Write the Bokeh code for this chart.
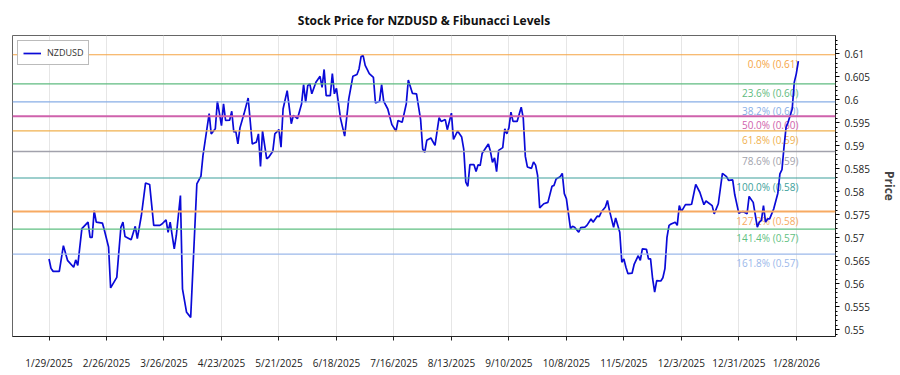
import pandas as pd
from bokeh.plotting import figure
from bokeh.models import (FixedTicker, SingleIntervalTicker, CustomJSTickFormatter,
                          Span, ColumnDataSource, Range1d)
from bokeh.core.properties import value
from bokeh.embed import file_html
from bokeh.resources import INLINE

# ---------------- data ----------------
dates = [
    "2025-01-29", "2025-01-30", "2025-01-31", "2025-02-03", "2025-02-05", "2025-02-07", "2025-02-10",
    "2025-02-11", "2025-02-12", "2025-02-14", "2025-02-17", "2025-02-18", "2025-02-19", "2025-02-20",
    "2025-02-21", "2025-02-24", "2025-02-25", "2025-02-27", "2025-02-28", "2025-03-03", "2025-03-05",
    "2025-03-06", "2025-03-07", "2025-03-10", "2025-03-12", "2025-03-13", "2025-03-15", "2025-03-17",
    "2025-03-19", "2025-03-21", "2025-03-24", "2025-03-25", "2025-03-27", "2025-03-28", "2025-03-29",
    "2025-03-31", "2025-04-01", "2025-04-03", "2025-04-04", "2025-04-06", "2025-04-08", "2025-04-11",
    "2025-04-13", "2025-04-14", "2025-04-17", "2025-04-18", "2025-04-20", "2025-04-21", "2025-04-23",
    "2025-04-24", "2025-04-25", "2025-04-27", "2025-04-28", "2025-04-29", "2025-04-30", "2025-05-01",
    "2025-05-02", "2025-05-04", "2025-05-06", "2025-05-08", "2025-05-10", "2025-05-11", "2025-05-12",
    "2025-05-13", "2025-05-15", "2025-05-16", "2025-05-18", "2025-05-19", "2025-05-21", "2025-05-22",
    "2025-05-23", "2025-05-25", "2025-05-27", "2025-05-28", "2025-05-30", "2025-06-01", "2025-06-02",
    "2025-06-03", "2025-06-04", "2025-06-05", "2025-06-06", "2025-06-08", "2025-06-10", "2025-06-11",
    "2025-06-12", "2025-06-13", "2025-06-15", "2025-06-16", "2025-06-17", "2025-06-18", "2025-06-20",
    "2025-06-22", "2025-06-24", "2025-06-26", "2025-06-28", "2025-06-29", "2025-06-30", "2025-07-01",
    "2025-07-02", "2025-07-04", "2025-07-06", "2025-07-07", "2025-07-09", "2025-07-10", "2025-07-11",
    "2025-07-13", "2025-07-15", "2025-07-17", "2025-07-18", "2025-07-20", "2025-07-22", "2025-07-23",
    "2025-07-25", "2025-07-27", "2025-07-29", "2025-07-30", "2025-07-31", "2025-08-01", "2025-08-03",
    "2025-08-05", "2025-08-07", "2025-08-08", "2025-08-10", "2025-08-11", "2025-08-13", "2025-08-14",
    "2025-08-16", "2025-08-18", "2025-08-19", "2025-08-20", "2025-08-21", "2025-08-22", "2025-08-24",
    "2025-08-25", "2025-08-26", "2025-08-27", "2025-08-28", "2025-08-31", "2025-09-01", "2025-09-02",
    "2025-09-03", "2025-09-04", "2025-09-05", "2025-09-07", "2025-09-08", "2025-09-09", "2025-09-10",
    "2025-09-11", "2025-09-12", "2025-09-14", "2025-09-16", "2025-09-17", "2025-09-18", "2025-09-19",
    "2025-09-21", "2025-09-22", "2025-09-23", "2025-09-24", "2025-09-25", "2025-09-27", "2025-09-29",
    "2025-10-01", "2025-10-02", "2025-10-03", "2025-10-05", "2025-10-06", "2025-10-07", "2025-10-08",
    "2025-10-10", "2025-10-11", "2025-10-12", "2025-10-14", "2025-10-15", "2025-10-17", "2025-10-18",
    "2025-10-20", "2025-10-21", "2025-10-23", "2025-10-24", "2025-10-25", "2025-10-27", "2025-10-28",
    "2025-10-29", "2025-10-31", "2025-11-01", "2025-11-03", "2025-11-04", "2025-11-05", "2025-11-06",
    "2025-11-07", "2025-11-09", "2025-11-10", "2025-11-12", "2025-11-13", "2025-11-14", "2025-11-16",
    "2025-11-17", "2025-11-18", "2025-11-19", "2025-11-20", "2025-11-21", "2025-11-23", "2025-11-24",
    "2025-11-25", "2025-11-26", "2025-11-27", "2025-11-28", "2025-11-30", "2025-12-01", "2025-12-02",
    "2025-12-03", "2025-12-05", "2025-12-07", "2025-12-08", "2025-12-10", "2025-12-12", "2025-12-14",
    "2025-12-15", "2025-12-18", "2025-12-19", "2025-12-21", "2025-12-23", "2025-12-25", "2025-12-26",
    "2025-12-28", "2025-12-29", "2025-12-31", "2026-01-01", "2026-01-02", "2026-01-04", "2026-01-05",
    "2026-01-07", "2026-01-09", "2026-01-10", "2026-01-11", "2026-01-12", "2026-01-13", "2026-01-14",
    "2026-01-15", "2026-01-17", "2026-01-19", "2026-01-20", "2026-01-21", "2026-01-22", "2026-01-23",
    "2026-01-24", "2026-01-25", "2026-01-26", "2026-01-27", "2026-01-28", "2026-01-29",
]
prices = [
    0.5654, 0.5633, 0.5627, 0.5627, 0.5683, 0.5651, 0.5636,
    0.5652, 0.5640, 0.5720, 0.5734, 0.5701, 0.5701, 0.5759,
    0.5734, 0.5732, 0.5716, 0.5680, 0.5591, 0.5614, 0.5723,
    0.5734, 0.5703, 0.5696, 0.5725, 0.5698, 0.5749, 0.5819,
    0.5816, 0.5727, 0.5727, 0.5730, 0.5739, 0.5712, 0.5734,
    0.5676, 0.5705, 0.5792, 0.5589, 0.5538, 0.5527, 0.5817,
    0.5834, 0.5879, 0.5970, 0.5926, 0.5937, 0.5997, 0.5944,
    0.5991, 0.5955, 0.5956, 0.5975, 0.5930, 0.5931, 0.5904,
    0.5939, 0.5970, 0.6004, 0.5904, 0.5908, 0.5926, 0.5855,
    0.5932, 0.5872, 0.5875, 0.5888, 0.5926, 0.5935, 0.5897,
    0.5980, 0.6020, 0.5948, 0.5966, 0.5959, 0.5991, 0.6033,
    0.5995, 0.6031, 0.6035, 0.6013, 0.6038, 0.6051, 0.6027,
    0.6066, 0.6009, 0.6009, 0.6057, 0.6013, 0.6025, 0.5959,
    0.5921, 0.6002, 0.6051, 0.6055, 0.6067, 0.6094, 0.6096,
    0.6075, 0.6057, 0.6049, 0.5993, 0.5997, 0.6033, 0.5997,
    0.5980, 0.5946, 0.5932, 0.5955, 0.5951, 0.5991, 0.6043,
    0.6014, 0.6013, 0.5957, 0.5893, 0.5886, 0.5912, 0.5917,
    0.5901, 0.5961, 0.5953, 0.5957, 0.5935, 0.5971, 0.5914,
    0.5932, 0.5919, 0.5893, 0.5821, 0.5812, 0.5859, 0.5859,
    0.5844, 0.5859, 0.5857, 0.5884, 0.5904, 0.5888, 0.5864,
    0.5874, 0.5844, 0.5890, 0.5896, 0.5937, 0.5926, 0.5939,
    0.5973, 0.5953, 0.5953, 0.5984, 0.5960, 0.5877, 0.5854,
    0.5851, 0.5865, 0.5858, 0.5835, 0.5765, 0.5774, 0.5777,
    0.5812, 0.5814, 0.5828, 0.5833, 0.5840, 0.5796, 0.5785,
    0.5720, 0.5725, 0.5723, 0.5712, 0.5722, 0.5723, 0.5727,
    0.5741, 0.5734, 0.5747, 0.5746, 0.5756, 0.5767, 0.5781,
    0.5759, 0.5723, 0.5743, 0.5712, 0.5647, 0.5654, 0.5636,
    0.5622, 0.5623, 0.5642, 0.5661, 0.5651, 0.5676, 0.5675,
    0.5654, 0.5654, 0.5611, 0.5582, 0.5607, 0.5606, 0.5613,
    0.5633, 0.5701, 0.5727, 0.5730, 0.5734, 0.5727, 0.5770,
    0.5757, 0.5772, 0.5772, 0.5773, 0.5816, 0.5799, 0.5772,
    0.5780, 0.5770, 0.5752, 0.5774, 0.5840, 0.5833, 0.5825,
    0.5826, 0.5794, 0.5753, 0.5756, 0.5757, 0.5752, 0.5790,
    0.5777, 0.5723, 0.5734, 0.5738, 0.5770, 0.5734, 0.5741,
    0.5741, 0.5763, 0.5797, 0.5839, 0.5848, 0.5897, 0.5940,
    0.5951, 0.5966, 0.5980, 0.6038, 0.6057, 0.6084,
]

fib_high = 0.6098
fib_low = 0.5830
fib_ratios = [0.0, 0.236, 0.382, 0.5, 0.618, 0.786, 1.0, 1.272, 1.414, 1.618]
fib_colors = ["#f5a445", "#5fbb80", "#88aee6", "#cf62ac", "#f0b14f",
              "#a2a2ac", "#3c9f9b", "#f7aa62", "#5fbf82", "#9bb8ea"]
fib_widths = [1.2, 1.2, 1.2, 2, 1.2, 1.5, 1.2, 2, 1.2, 1.2]

tick_dates = ["2025-01-29", "2025-02-26", "2025-03-26", "2025-04-23", "2025-05-21",
              "2025-06-18", "2025-07-16", "2025-08-13", "2025-09-10", "2025-10-08",
              "2025-11-05", "2025-12-03", "2025-12-31", "2026-01-28"]

# ---------------- figure ----------------
x = pd.to_datetime(dates)
FONT = "Open Sans"

p = figure(width=900, height=375, x_axis_type="datetime", y_axis_location="right",
           output_backend="svg", toolbar_location=None,
           x_range=Range1d(pd.Timestamp("2025-01-11 05:00"), pd.Timestamp("2026-02-16 02:00")),
           y_range=Range1d(0.54854, 0.61398),
           min_border_left=12, min_border_right=48, min_border_top=35, min_border_bottom=39)

p.title.text = "Stock Price for NZDUSD & Fibunacci Levels"
p.title.align = "center"
p.title.vertical_align = "top"
p.title.text_font = FONT
p.title.text_font_size = "12px"
p.title.text_font_style = "bold"
p.title.text_color = "#111111"

p.outline_line_color = "#666666"
p.outline_line_width = 1
p.background_fill_color = "white"
p.border_fill_color = "white"

# x axis
tick_ms = [pd.Timestamp(d).value // 10**6 for d in tick_dates]
p.xaxis.ticker = FixedTicker(ticks=tick_ms)
p.xaxis.formatter = CustomJSTickFormatter(code="""
const d = new Date(tick);
return (d.getUTCMonth()+1) + "/" + d.getUTCDate() + "/" + d.getUTCFullYear();
""")
p.xaxis.major_label_text_font = FONT
p.xaxis.major_label_text_font_size = "10px"
p.xaxis.major_label_text_color = "#222222"
p.xaxis.major_label_standoff = 15
p.xaxis.major_tick_out = 4
p.xaxis.major_tick_in = 0
p.xaxis.minor_tick_line_color = None
p.xaxis.axis_line_color = "#222222"
p.xaxis.major_tick_line_color = "#222222"

# y axis
p.yaxis.ticker = SingleIntervalTicker(interval=0.005, num_minor_ticks=5)
p.yaxis.formatter = CustomJSTickFormatter(code="return String(parseFloat(tick.toFixed(3)));")
p.yaxis.major_label_text_font = FONT
p.yaxis.major_label_text_font_size = "10px"
p.yaxis.major_label_text_color = "#222222"
p.yaxis.major_tick_out = 4
p.yaxis.major_tick_in = 0
p.yaxis.minor_tick_out = 2
p.yaxis.minor_tick_in = 0
p.yaxis.axis_line_color = "#222222"
p.yaxis.axis_label = "Price"
p.yaxis.axis_label_text_font = FONT
p.yaxis.axis_label_text_font_size = "12px"
p.yaxis.axis_label_text_font_style = "bold"
p.yaxis.axis_label_standoff = 8

p.xgrid.grid_line_color = "#e6e6e6"
p.ygrid.grid_line_color = None

# fib levels
levels = [fib_high - r * (fib_high - fib_low) for r in fib_ratios]
labels = [f"{r*100:.1f}% ({lv:.2f})" for r, lv in zip(fib_ratios, levels)]
for lv, c, w in zip(levels, fib_colors, fib_widths):
    p.add_layout(Span(location=lv, dimension="width", line_color=c, line_width=w))

src = ColumnDataSource(dict(x=[x[-1]] * len(levels), y=levels, text=labels, color=fib_colors))
p.text(x="x", y="y", text="text", source=src, text_color="color", text_align="right",
       text_baseline="top", y_offset=2, text_font=value(FONT), text_font_size="10px")

# price line
p.line(x, prices, line_color="#0a0ad8", line_width=1.7, legend_label="NZDUSD")

p.legend.location = "top_left"
p.legend.label_text_font = FONT
p.legend.label_text_font_size = "9px"
p.legend.label_text_color = "#333333"
p.legend.border_line_color = "#777777"
p.legend.border_line_width = 1
p.legend.margin = 5
p.legend.padding = 5
p.legend.glyph_width = 18
p.legend.glyph_height = 12
p.legend.label_height = 12
p.legend.label_standoff = 6
p.legend.spacing = 0

open("out.html", "w").write(file_html(p, INLINE))
